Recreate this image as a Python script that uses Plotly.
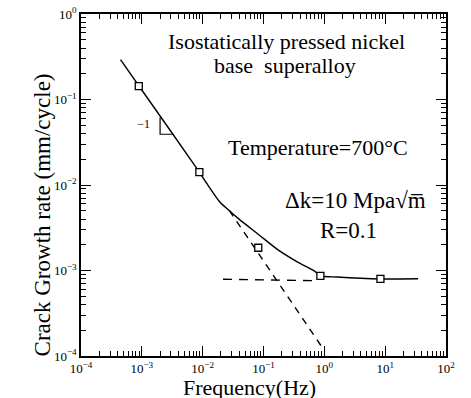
import plotly.graph_objects as go

# ---- data ----
curve_freq = [4.46e-4, 1.148e-3, 7.64e-3, 8.83e-3, 1.169e-2, 1.897e-2, 2.748e-2, 3.963e-2, 8.30e-2,
              0.1734, 0.3639, 0.6745, 0.861, 1.607, 8.36, 34.7]
curve_rate = [0.2924, 0.1122, 0.01644, 0.01413, 0.01042, 6.38e-3, 5.0e-3, 3.99e-3, 2.636e-3,
              1.742e-3, 1.256e-3, 9.95e-4, 8.67e-4, 8.38e-4, 7.96e-4, 8.0e-4]

pts_freq = [8.91e-4, 8.83e-3, 0.0820, 0.861, 8.36]
pts_rate = [0.1435, 0.01413, 1.845e-3, 8.67e-4, 7.96e-4]

diag_freq = [0.02748, 0.9268]
diag_rate = [5.02e-3, 1.253e-4]

flat_freq = [0.02163, 0.6531]
flat_rate = [7.9e-4, 7.6e-4]

tri_freq = [1.995e-3, 1.995e-3, 3.27e-3]
tri_rate = [0.0615, 0.0392, 0.0392]

slope_label_freq = [1.07e-3]
slope_label_rate = [0.0501]
slope_label_text = ["\u22121"]

x_tickvals = [1e-4, 1e-3, 1e-2, 1e-1, 1e0, 1e1, 1e2]
x_ticktext = ["10<sup>\u22124</sup>", "10<sup>\u22123</sup>", "10<sup>\u22122</sup>",
              "10<sup>\u22121</sup>", "10<sup>0</sup>", "10<sup>1</sup>", "10<sup>2</sup>"]
y_tickvals = [1e-4, 1e-3, 1e-2, 1e-1, 1e0]
y_ticktext = ["10<sup>\u22124</sup>", "10<sup>\u22123</sup>", "10<sup>\u22122</sup>",
              "10<sup>\u22121</sup>", "10<sup>0</sup>"]

FONT = "Liberation Serif, Times New Roman, serif"

fig = go.Figure()
fig.add_trace(go.Scatter(x=curve_freq, y=curve_rate, mode="lines",
                         line=dict(color="black", width=1.4, shape="spline", smoothing=0.6),
                         hoverinfo="skip"))
fig.add_trace(go.Scatter(x=diag_freq, y=diag_rate, mode="lines",
                         line=dict(color="black", width=1.4, dash="7px,6px"), hoverinfo="skip"))
fig.add_trace(go.Scatter(x=flat_freq, y=flat_rate, mode="lines",
                         line=dict(color="black", width=1.4, dash="9px,7px"), hoverinfo="skip"))
fig.add_trace(go.Scatter(x=tri_freq, y=tri_rate, mode="lines",
                         line=dict(color="black", width=1.2), hoverinfo="skip"))
fig.add_trace(go.Scatter(x=pts_freq, y=pts_rate, mode="markers",
                         marker=dict(symbol="square", size=7, color="white",
                                     line=dict(color="black", width=1.3))))
fig.add_trace(go.Scatter(x=slope_label_freq, y=slope_label_rate, mode="text",
                         text=slope_label_text, textfont=dict(family=FONT, size=12, color="black")))

minor_x = [k * 10.0 ** e for e in range(-4, 2) for k in range(2, 10)]
minor_y = [k * 10.0 ** e for e in range(-4, 0) for k in range(2, 10)]

axis_common = dict(showline=True, linecolor="black", linewidth=1.5, mirror="ticks",
                   ticks="inside", ticklen=10, tickwidth=1.2, tickcolor="black",
                   showgrid=False, zeroline=False, automargin=False,
                   tickfont=dict(family=FONT, size=13, color="black"))

fig.update_xaxes(type="log", range=[-4, 2], tickmode="array", tickvals=x_tickvals,
                 ticktext=x_ticktext,
                 minor=dict(tickmode="array", tickvals=minor_x, ticks="inside", ticklen=5,
                            tickwidth=1, tickcolor="black", showgrid=False),
                 **axis_common)
fig.update_yaxes(type="log", range=[-4, 0], tickmode="array", tickvals=y_tickvals,
                 ticktext=y_ticktext,
                 minor=dict(tickmode="array", tickvals=minor_y, ticks="inside", ticklen=5,
                            tickwidth=1, tickcolor="black", showgrid=False),
                 **axis_common)

def ann(text, x, y, size=21, **kw):
    fig.add_annotation(text=text, x=x, y=y, xref="paper", yref="paper", showarrow=False,
                       xanchor="center", yanchor="middle",
                       font=dict(family=FONT, size=size, color="black"), **kw)

ann("Isostatically pressed nickel", 0.564, 0.921, size=22)
ann("base  superalloy", 0.559, 0.849, size=22)
ann("Temperature=700\u00b0C", 0.649, 0.611, size=22)
ann("\u0394k=10 Mpa\u221am\u0305", 0.751, 0.456, size=23)
ann("R=0.1", 0.732, 0.368, size=23)
ann("Frequency(Hz)", 0.463, -0.092, size=22)
ann("Crack Growth rate (mm/cycle)", -0.106, 0.412, size=23, textangle=-90)

fig.update_layout(width=471, height=398, margin=dict(l=81, r=25, t=14, b=42, autoexpand=False),
                  paper_bgcolor="white", plot_bgcolor="white", showlegend=False)

fig.write_html("out.html", config={"displayModeBar": False},
               post_script="document.body.style.margin='0';document.body.style.overflow='hidden';")
